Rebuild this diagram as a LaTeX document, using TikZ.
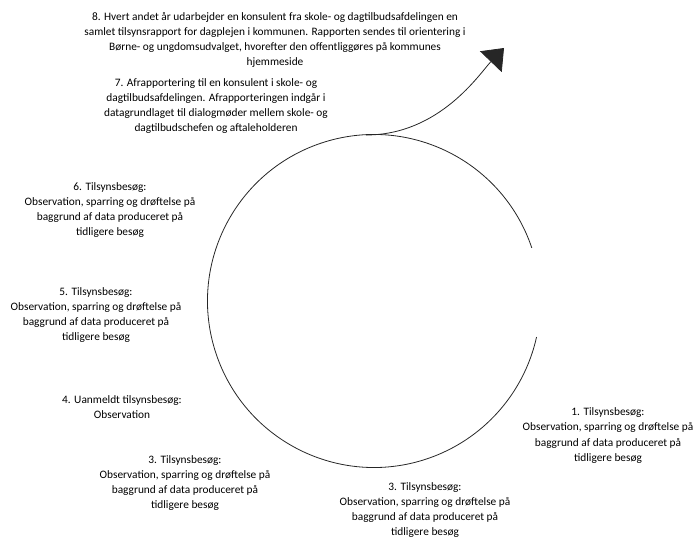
\documentclass[tikz,border=0pt]{standalone}
\usepackage{fontspec}
\setmainfont{Carlito}
\usetikzlibrary{arrows.meta}
\tikzset{
    besoeg/.style = {align = center, inner sep = 0pt, font = \fontsize{11.4}{15.3}\selectfont},
    ring/.style = {line width = .8bp, black!85},
}
\newcommand{\tilsyn}[1]{#1. Tilsynsbesøg:\\Observation, sparring og drøftelse på\\baggrund af data produceret på\\tidligere besøg}

\begin{document}
\begin{tikzpicture}[x = 1bp, y = 1bp]%
    \useasboundingbox (0, 0) rectangle (697, 539);
    \coordinate (M) at (374, 238);
    \draw[ring] (M) ++(18.6:166.5bp) arc(18.6:347.5:166.5bp);
    \coordinate (start) at (366, 404);
    \coordinate (tip) at (504, 491);
    \draw[ring, -{Triangle[width = 30bp, length = 19bp]}] (start) .. controls (440, 404) and (480, 466) .. (tip);
    \node[besoeg] (b8) at (275, 499) {8. Hvert andet år udarbejder en konsulent fra skole- og dagtilbudsafdelingen en\\samlet tilsynsrapport for dagplejen i kommunen. Rapporten sendes til orientering i\\Børne- og ungdomsudvalget, hvorefter den offentliggøres på kommunes\\hjemmeside};
    \node[besoeg] (b7) at (216, 433) {7. Afrapportering til en konsulent i skole- og\\dagtilbudsafdelingen. Afrapporteringen indgår i\\datagrundlaget til dialogmøder mellem skole- og\\dagtilbudschefen og aftaleholderen};
    \node[besoeg] (b6) at (110, 329) {\tilsyn{6}};
    \node[besoeg] (b5) at (96, 224) {\tilsyn{5}};
    \node[besoeg] (b4) at (122, 132) {4. Uanmeldt tilsynsbesøg:\\Observation};
    \node[besoeg] (b3a) at (185, 56) {\tilsyn{3}};
    \node[besoeg] (b3b) at (425, 29) {\tilsyn{3}};
    \node[besoeg] (b1) at (608, 103.5) {\tilsyn{1}};
\end{tikzpicture}
\end{document}
